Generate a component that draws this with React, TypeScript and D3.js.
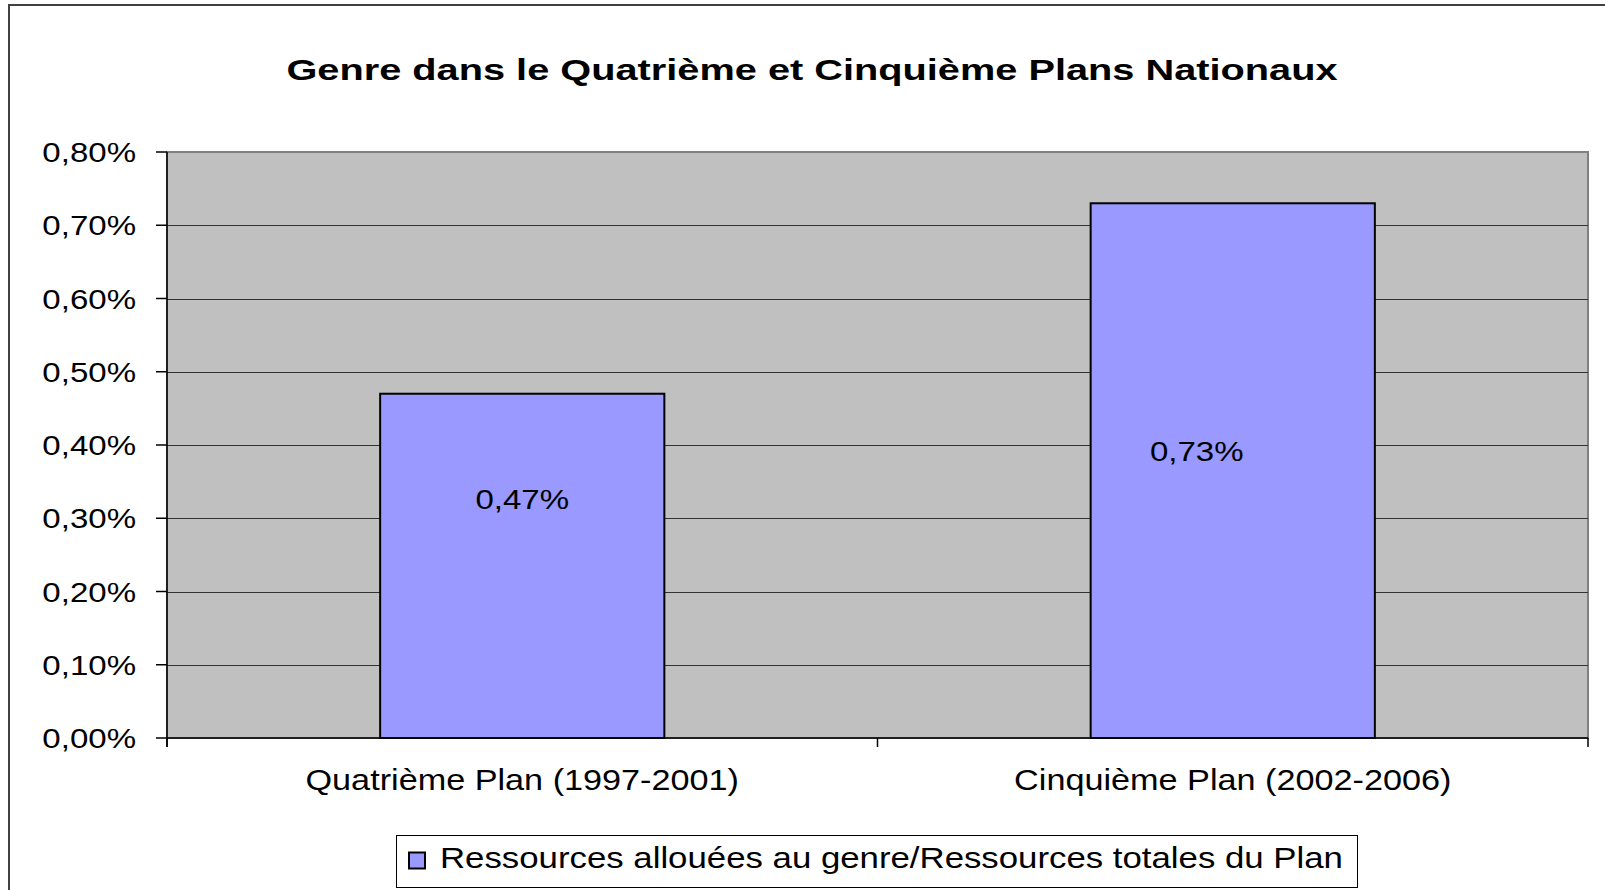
import React from "react";
import * as d3 from "d3";

const title = "Genre dans le Quatrième et Cinquième Plans Nationaux";
const categories = ["Quatrième Plan (1997-2001)", "Cinquième Plan (2002-2006)"];
const values = [0.0047, 0.0073];
const valueLabels = ["0,47%", "0,73%"];
const yTicks = [0, 0.001, 0.002, 0.003, 0.004, 0.005, 0.006, 0.007, 0.008];
const yTickLabels = ["0,00%", "0,10%", "0,20%", "0,30%", "0,40%", "0,50%", "0,60%", "0,70%", "0,80%"];
const seriesName = "Ressources allouées au genre/Ressources totales du Plan";

const W = 1605;
const H = 890;
const plot = { left: 167, right: 1588, top: 152, bottom: 738 };
const FONT = "'Liberation Sans', Arial, sans-serif";
const SX = 1.18;

function T(props: {
  x: number;
  y: number;
  size: number;
  anchor?: "start" | "middle" | "end";
  bold?: boolean;
  sx?: number;
  children: React.ReactNode;
}) {
  const { x, y, size, anchor = "start", bold = false, sx = SX, children } = props;
  return (
    <text
      transform={`translate(${x},${y}) scale(${sx},1)`}
      fontFamily={FONT}
      fontSize={size}
      fontWeight={bold ? "bold" : "normal"}
      textAnchor={anchor}
      fill="#000"
    >
      {children}
    </text>
  );
}

export default function App() {
  const x = d3.scaleBand<string>().domain(categories).range([plot.left, plot.right]).padding(0);
  const y = d3.scaleLinear().domain([0, 0.008]).range([plot.bottom, plot.top]);
  const bw = x.bandwidth() * 0.4;
  const labelDx = [0, -36];
  const labelMid = [0.00326, 0.00392];

  return (
    <svg
      width={W}
      height={H}
      style={{ position: "absolute", left: 0, top: 0, background: "#fff" }}
    >
      {/* outer chart border */}
      <rect x={9} y={5} width={W + 20} height={H + 20} fill="none" stroke="#404040" strokeWidth={2} />

      <T x={812} y={80} size={30} bold anchor="middle" sx={1.325}>
        {title}
      </T>

      {/* plot background */}
      <rect
        x={plot.left}
        y={plot.top}
        width={plot.right - plot.left}
        height={plot.bottom - plot.top}
        fill="#C0C0C0"
        stroke="#808080"
        strokeWidth={2}
      />

      {/* gridlines */}
      {yTicks.slice(1, -1).map((t) => (
        <line
          key={t}
          x1={plot.left}
          x2={plot.right}
          y1={Math.round(y(t)) + 0.5}
          y2={Math.round(y(t)) + 0.5}
          stroke="#333"
          strokeWidth={1}
        />
      ))}

      {/* bars */}
      {categories.map((c, i) => {
        const cx = (x(c) as number) + x.bandwidth() / 2;
        return (
          <rect
            key={c}
            x={cx - bw / 2}
            y={y(values[i])}
            width={bw}
            height={plot.bottom - y(values[i])}
            fill="#9999FF"
            stroke="#000"
            strokeWidth={2}
          />
        );
      })}

      {/* value labels */}
      {categories.map((c, i) => {
        const cx = (x(c) as number) + x.bandwidth() / 2;
        return (
          <T key={c} x={cx + labelDx[i]} y={y(labelMid[i]) + 10} size={28} anchor="middle">
            {valueLabels[i]}
          </T>
        );
      })}

      {/* y axis */}
      <line x1={plot.left} x2={plot.left} y1={plot.top} y2={plot.bottom + 9} stroke="#000" strokeWidth={1.5} />
      {yTicks.map((t, i) => (
        <g key={t}>
          <line x1={plot.left - 11} x2={plot.left} y1={y(t)} y2={y(t)} stroke="#000" strokeWidth={1.5} />
          <T x={136} y={y(t) + 10} size={28} anchor="end">
            {yTickLabels[i]}
          </T>
        </g>
      ))}

      {/* x axis */}
      <line x1={plot.left} x2={plot.right} y1={plot.bottom} y2={plot.bottom} stroke="#000" strokeWidth={1.5} />
      {[...categories.map((c) => x(c) as number), plot.right].map((v, i) => (
        <line key={i} x1={v} x2={v} y1={plot.bottom} y2={plot.bottom + 9} stroke="#000" strokeWidth={1.5} />
      ))}
      {categories.map((c) => (
        <T key={c} x={(x(c) as number) + x.bandwidth() / 2} y={790} size={29} anchor="middle">
          {c}
        </T>
      ))}

      {/* legend */}
      <rect x={396.5} y={835.5} width={961} height={52} fill="#fff" stroke="#000" strokeWidth={1} />
      <rect x={409} y={852.5} width={16} height={16} fill="#9999FF" stroke="#000" strokeWidth={2} />
      <T x={440} y={868} size={29} sx={1.2}>
        {seriesName}
      </T>
    </svg>
  );
}
